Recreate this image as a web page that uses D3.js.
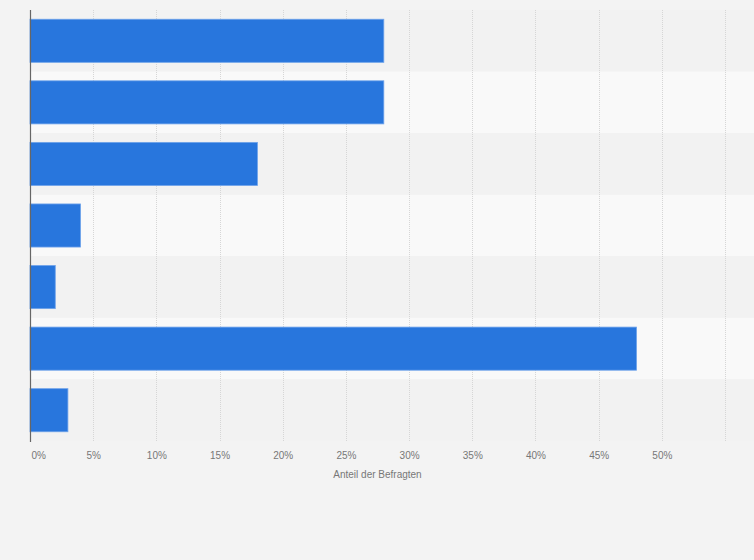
<!DOCTYPE html>
<html>
<head>
<meta charset="utf-8">
<script src="https://cdn.jsdelivr.net/npm/d3@7"></script>
<style>
  html, body { margin: 0; padding: 0; background: #f3f3f3; }
  svg { display: block; font-family: "Liberation Sans", Arial, sans-serif; }
</style>
</head>
<body>
<script>
// one bar per answer group, no labels shown on the chart
const categories = ["A", "B", "C", "D", "E", "F", "G"]
const values = [28, 28, 18, 4, 2, 48, 3]
const tickValues = [0, 5, 10, 15, 20, 25, 30, 35, 40, 45, 50]
const gridValues = [5, 10, 15, 20, 25, 30, 35, 40, 45, 50, 55]
const axisTitle = "Anteil der Befragten"

const width = 754
const height = 560

const svg = d3.select("body").append("svg")
    .attr("width", width)
    .attr("height", height)

svg.append("rect")
    .attr("width", width)
    .attr("height", height)
    .attr("fill", "#f3f3f3")

const x = d3.scaleLinear().domain([0, 55]).range([30, 725])
const y = d3.scaleBand()
    .domain(categories)
    .range([10, 441])
    .paddingInner(0.3)
    .paddingOuter(0.15)

const step = y.step()

// alternating row bands
svg.append("g").selectAll("rect")
    .data(categories)
    .enter()
    .append("rect")
        .attr("x", 30)
        .attr("y", d => y(d) - step * 0.15)
        .attr("width", width - 30)
        .attr("height", step)
        .attr("fill", (d, i) => i % 2 ? "#f9f9f9" : "#f2f2f2")

// dotted grid
svg.append("g").selectAll("line")
    .data(gridValues)
    .enter()
    .append("line")
        .attr("x1", d => Math.round(x(d)) + 0.5)
        .attr("x2", d => Math.round(x(d)) + 0.5)
        .attr("y1", 10)
        .attr("y2", 441)
        .attr("stroke", "#d6d6d6")
        .attr("stroke-dasharray", "1,1")

svg.append("g").selectAll("rect")
    .data(values)
    .enter()
    .append("rect")
        .attr("x", x(0))
        .attr("y", (d, i) => y(categories[i]))
        .attr("width", d => x(d) - x(0))
        .attr("height", y.bandwidth())
        .attr("fill", "#2876dd")
        .attr("stroke", "#6fa3ea")
        .attr("stroke-width", 0.8)

// axis line
svg.append("line")
    .attr("x1", 30.5).attr("x2", 30.5)
    .attr("y1", 10).attr("y2", 442)
    .attr("stroke", "#666")
    .attr("stroke-width", 1.2)

const xAxis = svg.append("g")
    .attr("transform", "translate(0,447)")
    .call(d3.axisBottom(x).tickValues(tickValues).tickSize(0).tickFormat(d => d + "%"))
xAxis.select(".domain").remove()
xAxis.selectAll("text")
    .attr("font-size", 10)
    .attr("font-family", "Liberation Sans, Arial, sans-serif")
    .attr("fill", "#777")
    .attr("dy", "0.71em")
    .attr("y", 5)
xAxis.selectAll("text")
    .filter(d => d === 0)
    .attr("text-anchor", "start")
    .attr("dx", 1)

svg.append("text")
    .attr("x", (x.range()[0] + x.range()[1]) / 2)
    .attr("y", 478)
    .attr("text-anchor", "middle")
    .attr("font-size", 10)
    .attr("fill", "#777")
    .text(axisTitle)
</script>
</body>
</html>
